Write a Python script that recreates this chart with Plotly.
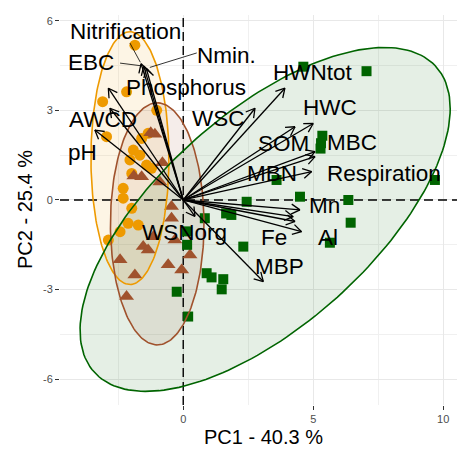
import numpy as np
import plotly.graph_objects as go

# ---------------- data ----------------
orange_x = [-1.86, -2.18, -3.10, -2.95, -1.02, -1.35, -1.60, -1.92, -2.05, -1.67,
            -1.41, -1.22, -1.98, -2.31, -2.31, -1.98, -2.12, -1.73, -2.43, -2.88]
orange_y = [5.18, 3.62, 3.29, 2.12, 3.00, 2.23, 2.06, 1.67, 1.34, 1.50,
            1.17, 1.06, 0.89, 0.39, 0.06, -0.28, -0.78, -0.84, -1.06, -1.34]

brown_x = [-1.09, -1.25, -0.80, -1.90, -1.60, -0.90, -0.45, -0.45, -1.15, -1.54,
           -1.35, -0.32, 0.26, -2.43, -0.58, -0.06, -1.86, -2.18]
brown_y = [2.20, 2.25, 1.25, 0.80, 0.78, 0.60, -0.22, -0.61, -1.23, -1.56,
           -1.67, -1.34, -1.84, -2.00, -2.17, -2.34, -2.51, -3.23]

green_x = [4.62, 7.05, 5.35, 5.30, 5.28, 3.59, 9.68, 4.49, 6.35, 6.44, 5.64, 2.44,
           1.65, 1.85, 0.83, 2.31, 0.90, 1.09, 1.54, 1.48, 0.19, -0.25, 0.15, 0.15]
green_y = [4.46, 4.31, 2.15, 1.90, 1.72, 0.67, 0.67, 0.11, 0.00, -0.76, -1.43, -0.06,
           -0.45, -0.50, -0.61, -1.56, -2.45, -2.59, -2.65, -2.99, -3.90, -3.07, -1.05, -1.50]

# variable loadings (arrow tips)
var_names = ["Nitrification", "EBC", "Nmin.", "Phosphorus", "AWCD", "pH",
             "WSC", "HWNtot", "HWC", "SOM", "MBC", "Respiration", "MBN",
             "Mn", "Fe", "", "Al", "MBP", "WSNorg"]
load_pc1 = [-1.62, -1.52, -1.42, -2.88, -2.82, -3.40,
            2.76, 3.91, 5.00, 4.30, 5.07, 5.07, 4.94,
            4.49, 4.23, 4.30, 4.55, 3.08, 0.45]
load_pc2 = [4.56, 4.48, 4.40, 3.74, 3.07, 2.34,
            3.07, 3.74, 2.56, 2.45, 1.62, 1.45, 0.95,
            -0.33, -0.56, -0.72, -1.06, -2.73, -0.55]

# confidence ellipses: centre x, centre y, semi-axis a, semi-axis b, angle (deg)
ell_orange = [-2.05, 1.40, 4.23, 1.50, 90.0]
ell_brown = [-1.00, -0.80, 4.05, 1.80, 90.0]
ell_green = [3.15, -0.65, 8.35, 3.75, 35.8]

x_ticks = [0, 5, 10]
y_ticks = [-6, -3, 0, 3, 6]
x_title = "PC1 - 40.3 %"
y_title = "PC2 - 25.4 %"

# ---------------- layout constants ----------------
W, H = 457, 449
ML, MR, MT, MB = 60, 0, 15, 44
XR = [-4.74, 10.53]
YR = [-6.86, 6.19]
PW, PH = W - ML - MR, H - MT - MB
sx = PW / (XR[1] - XR[0])
sy = PH / (YR[1] - YR[0])

C_OR, C_BR, C_GR = "#EE9A00", "#A0522D", "#006400"
FONT = "Liberation Sans, Arial"
LBL_SIZE = 22.5

# label positions (data coords)
label_pos = {
    "Nitrification": (-2.22, 5.65), "EBC": (-3.55, 4.60), "Nmin.": (1.66, 4.82),
    "Phosphorus": (0.10, 3.75), "AWCD": (-3.07, 2.68), "pH": (-3.86, 1.60),
    "WSC": (1.37, 2.74), "HWNtot": (4.97, 4.25), "HWC": (5.64, 3.08),
    "SOM": (3.87, 1.90), "MBC": (6.49, 1.94), "Respiration": (7.74, 0.90),
    "MBN": (3.41, 0.90), "Mn": (5.45, -0.17), "Fe": (3.51, -1.24),
    "Al": (5.55, -1.24), "MBP": (3.72, -2.24), "WSNorg": (0.05, -1.10),
}
# connector segments (label side start point) for repelled labels
seg_start = {"Nitrification": (-2.05, 5.25), "EBC": (-2.43, 4.58), "Nmin.": (0.52, 4.92)}


def ellipse(p, n=200):
    cx, cy, a, b, ang = p
    t = np.linspace(0, 2 * np.pi, n)
    th = np.deg2rad(ang)
    x = cx + a * np.cos(th) * np.cos(t) - b * np.sin(th) * np.sin(t)
    y = cy + a * np.sin(th) * np.cos(t) + b * np.cos(th) * np.sin(t)
    return x, y


fig = go.Figure()

ells = [(ell_orange, C_OR, "rgba(238,154,0,0.1)"),
        (ell_brown, C_BR, "rgba(160,82,45,0.1)"),
        (ell_green, C_GR, "rgba(0,100,0,0.1)")]
for p, lc, fc in ells:
    ex, ey = ellipse(p)
    fig.add_trace(go.Scatter(x=ex, y=ey, mode="lines", fill="toself", fillcolor=fc,
                             line=dict(width=0), hoverinfo="skip", showlegend=False))

# dashed reference lines at 0 (drawn above fills, below points)
fig.add_trace(go.Scatter(x=[0, 0, None, XR[0], XR[1]], y=[YR[0], YR[1], None, 0, 0],
                         mode="lines", line=dict(color="black", width=1.4, dash="9px,5px"),
                         hoverinfo="skip", showlegend=False))

fig.add_trace(go.Scatter(x=orange_x, y=orange_y, mode="markers",
                         marker=dict(symbol="circle", size=11, color=C_OR), showlegend=False))
fig.add_trace(go.Scatter(x=brown_x, y=brown_y, mode="markers",
                         marker=dict(symbol="triangle-up", size=13, color=C_BR), showlegend=False))
fig.add_trace(go.Scatter(x=green_x, y=green_y, mode="markers",
                         marker=dict(symbol="square", size=10, color=C_GR), showlegend=False))

for p, lc, fc in ells:
    ex, ey = ellipse(p)
    fig.add_trace(go.Scatter(x=ex, y=ey, mode="lines", line=dict(color=lc, width=1.6),
                             hoverinfo="skip", showlegend=False))

# arrows: shafts + open heads (heads computed in pixel space)
ax_, ay_ = [], []
L, ANG = 10.0, np.deg2rad(30)
for tx, ty in zip(load_pc1, load_pc2):
    ax_ += [0, tx, None]
    ay_ += [0, ty, None]
    px, py = tx * sx, ty * sy
    n = np.hypot(px, py)
    ux, uy = px / n, py / n
    for s in (1, -1):
        c, si = np.cos(s * ANG), np.sin(s * ANG)
        rx, ry = ux * c - uy * si, ux * si + uy * c
        hx, hy = px - L * rx, py - L * ry
        ax_ += [hx / sx, tx, None]
        ay_ += [hy / sy, ty, None]
fig.add_trace(go.Scatter(x=ax_, y=ay_, mode="lines", line=dict(color="black", width=1.3),
                         hoverinfo="skip", showlegend=False))

# connector segments
segx, segy = [], []
for name, (sx0, sy0) in seg_start.items():
    i = var_names.index(name)
    tx, ty = load_pc1[i], load_pc2[i]
    segx += [sx0, sx0 + 0.93 * (tx - sx0), None]
    segy += [sy0, sy0 + 0.93 * (ty - sy0), None]
fig.add_trace(go.Scatter(x=segx, y=segy, mode="lines", line=dict(color="black", width=0.8),
                         hoverinfo="skip", showlegend=False))

for name in var_names:
    if not name:
        continue
    lx, ly = label_pos[name]
    fig.add_annotation(x=lx, y=ly, text=name, showarrow=False, xref="x", yref="y",
                       font=dict(family=FONT, size=LBL_SIZE, color="black"))

# axis titles (placed in paper coords, outside the panel)
fig.add_annotation(text=x_title, xref="paper", yref="paper",
                   x=(263 - ML) / PW, y=-(437 - (MT + PH)) / PH, showarrow=False,
                   xanchor="center", yanchor="middle",
                   font=dict(family=FONT, size=20, color="black"))
fig.add_annotation(text=y_title, xref="paper", yref="paper",
                   x=-(ML - 25) / PW, y=0.5 - (210 - (MT + PH / 2)) / PH, showarrow=False,
                   xanchor="center", yanchor="middle", textangle=-90,
                   font=dict(family=FONT, size=20, color="black"))

axis_common = dict(showline=False, zeroline=False, ticks="outside", ticklen=4,
                   tickwidth=1.2, tickcolor="#333333", automargin=False,
                   tickfont=dict(family=FONT, size=11, color="#4d4d4d"),
                   gridcolor="#e8e8e8", gridwidth=1)
fig.update_xaxes(range=XR, tickvals=x_ticks, ticktext=[str(v) for v in x_ticks],
                 minor=dict(tickvals=[-2.5, 2.5, 7.5], showgrid=True, gridcolor="#f0f0f0",
                            gridwidth=0.7, ticks=""),
                 **axis_common)
fig.update_yaxes(range=YR, tickvals=y_ticks, ticktext=[str(v) for v in y_ticks],
                 minor=dict(tickvals=[-4.5, -1.5, 1.5, 4.5], showgrid=True, gridcolor="#f0f0f0",
                            gridwidth=0.7, ticks=""),
                 **axis_common)

fig.update_layout(width=W, height=H, margin=dict(l=ML, r=MR, t=MT, b=MB, autoexpand=False),
                  plot_bgcolor="white", paper_bgcolor="white", showlegend=False)

fig.write_html("out.html", config={"displayModeBar": False},
               post_script="document.body.style.margin='0';document.body.style.overflow='hidden';")
